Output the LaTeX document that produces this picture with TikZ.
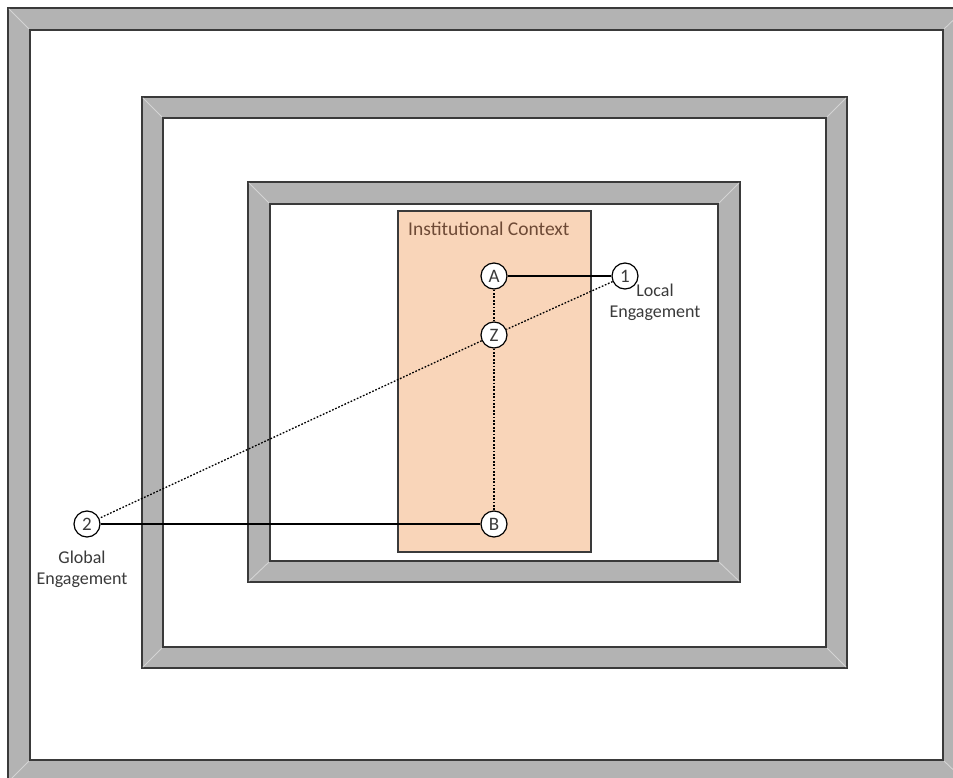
\documentclass[tikz,border=0pt]{standalone}
\usepackage{fontspec}
\setmainfont{Carlito}
\definecolor{framegray}{HTML}{B3B3B3}
\definecolor{edgegray}{HTML}{3A3A3A}
\definecolor{bevelgray}{HTML}{D4D4D4}
\definecolor{peach}{HTML}{F9D5B9}
\definecolor{titlebrown}{HTML}{6E4A36}
\definecolor{textgray}{HTML}{3A3A3A}
\begin{document}
\begin{tikzpicture}[x=1pt,y=-1pt,
  frame/.style={fill=framegray, draw=edgegray, line width=1.4pt, even odd rule},
  bevel/.style={draw=bevelgray, line width=0.9pt},
  circ/.style={circle, draw=black, fill=white, line width=1.2pt, minimum size=26pt, inner sep=0pt, text=textgray, font=\fontsize{19}{19}\selectfont},
  solidlink/.style={draw=black, line width=1.3pt},
  dottedlink/.style={draw=black, line width=1.3pt, dash pattern=on 1.7pt off 1.7pt},
  lbl/.style={align=center, text=textgray, font=\fontsize{18}{21}\selectfont}]
\useasboundingbox (0,0) rectangle (953,778);
\clip (0,0) rectangle (953,778);
\fill[white] (0,0) rectangle (953,778);
% outer frame
\path[frame] (8,8) rectangle (966,782) (30,30) rectangle (943,760);
\draw[bevel] (9,9) -- (29,29) (965,9) -- (944,29) (9,781) -- (29,761) (965,781) -- (944,761);
% middle frame
\path[frame] (142,97) rectangle (847,668) (163,118) rectangle (826,647);
\draw[bevel] (143,98) -- (162,117) (846,98) -- (827,117) (143,667) -- (162,648) (846,667) -- (827,648);
% inner frame
\path[frame] (248,182) rectangle (740,582) (270,204) rectangle (718,561);
\draw[bevel] (249,183) -- (269,203) (739,183) -- (719,203) (249,581) -- (269,562) (739,581) -- (719,562);
% institutional context
\path[fill=peach, draw=edgegray, line width=1.2pt] (398,211) rectangle (591,552);
\node[anchor=west, text=titlebrown, font=\fontsize{19.5}{19.5}\selectfont, inner sep=0pt] (title) at (408,229) {Institutional Context};
% nodes
\node[circ] (A) at (494,276) {A};
\node[circ] (one) at (625,276) {1};
\node[circ] (Z) at (494,335) {Z};
\node[circ] (B) at (494,524) {B};
\node[circ] (two) at (87,524) {2};
\node[lbl] (local) at (655,302) {Local\\Engagement};
\node[lbl] (global) at (82,569) {Global\\Engagement};
% connectors
\draw[solidlink] (A) -- (one);
\draw[solidlink] (two) -- (B);
\draw[dottedlink] (A) -- (Z);
\draw[dottedlink] (Z) -- (B);
\draw[dottedlink] (one) -- (Z);
\draw[dottedlink] (Z) -- (two);
\end{tikzpicture}
\end{document}
